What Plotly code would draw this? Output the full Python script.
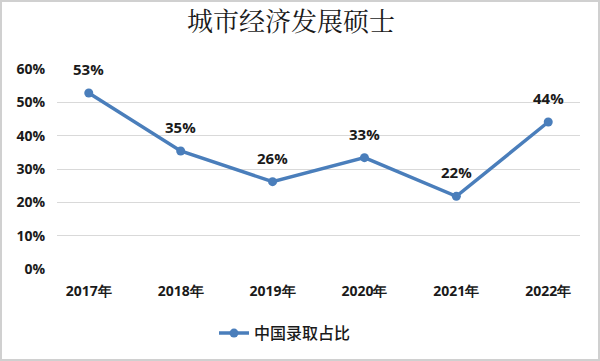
import plotly.graph_objects as go

years = ["2017年", "2018年", "2019年", "2020年", "2021年", "2022年"]
ratio = [0.528, 0.354, 0.262, 0.334, 0.218, 0.441]
labels = ["53%", "35%", "26%", "33%", "22%", "44%"]
series_name = "中国录取占比"
title = "城市经济发展硕士"

W, H = 600, 361
ml, mr, mt, mb = 57, 20, 69, 92
pw, ph = W - ml - mr, H - mt - mb

fig = go.Figure()
fig.add_trace(go.Scatter(
    x=years, y=ratio, mode="lines+markers", name=series_name,
    line=dict(color="#4a7ebb", width=3.5),
    marker=dict(color="#4a7ebb", size=9),
))
for xv, yv, t in zip(years, ratio, labels):
    fig.add_annotation(x=xv, y=yv, text=t, showarrow=False, yshift=24,
                       font=dict(family="Open Sans, sans-serif", size=15, color="#1a1a1a", weight="bold"))

# outer frame
x0 = (-ml + 1) / pw
x1 = (W - ml - 1) / pw
y0 = -(mb - 1) / ph
y1 = (H - mb - 1) / ph
fig.add_shape(type="rect", xref="paper", yref="paper", x0=x0, x1=x1, y0=y0, y1=y1,
              line=dict(color="#d0d0d0", width=2), layer="below")

fig.update_layout(
    width=W, height=H,
    margin=dict(l=ml, r=mr, t=mt, b=mb, autoexpand=False),
    paper_bgcolor="white", plot_bgcolor="white",
    title=dict(text=title, xref="container", x=0.485, xanchor="center", yref="container", y=0.94, yanchor="middle",
               font=dict(family="Noto Serif CJK SC, serif", size=26, color="#1a1a1a")),
    showlegend=True,
    legend=dict(orientation="h", xref="container", x=0.475, xanchor="center", yref="container", y=0.077, yanchor="middle",
                font=dict(family="Noto Sans CJK SC, sans-serif", size=16, color="#1a1a1a", weight=500)),
    xaxis=dict(showgrid=False, showline=False, ticks="", zeroline=False, automargin=False,
               ticklabelstandoff=12,
               tickfont=dict(family="Open Sans, sans-serif", size=14, color="#1a1a1a", weight="bold")),
    yaxis=dict(range=[0, 0.6], dtick=0.1, tickformat=".0%", showgrid=True, automargin=False,
               gridcolor="#d9d9d9", gridwidth=1, zeroline=False, showline=False, ticks="",
               ticklabelstandoff=11,
               tickfont=dict(family="Open Sans, sans-serif", size=14, color="#1a1a1a", weight="bold")),
)
fig.write_html("out.html", config={"displayModeBar": False},
               post_script="document.body.style.margin='0px';")
